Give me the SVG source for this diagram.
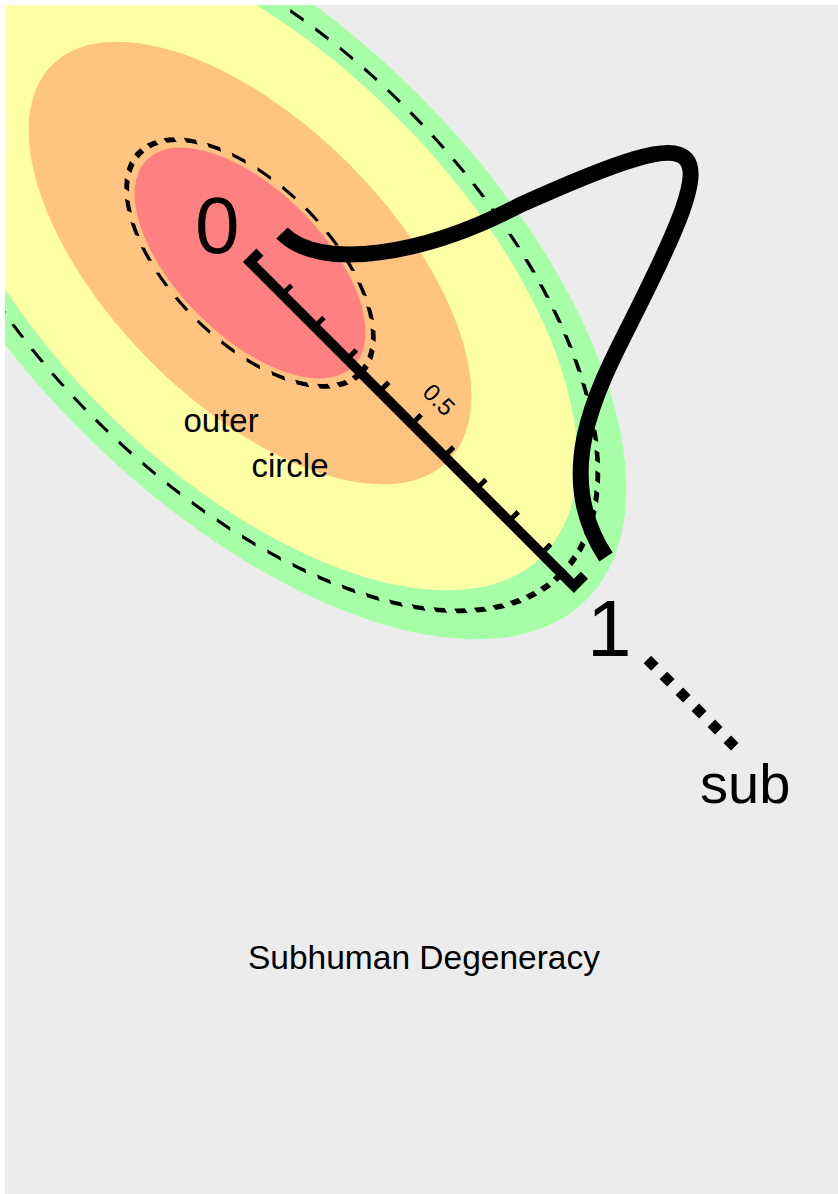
<svg xmlns="http://www.w3.org/2000/svg" width="838" height="1194" viewBox="0 0 838 1194">
<style>
text { font-family: "Liberation Sans", Arial, sans-serif; fill: #000; }
.dash { fill: none; stroke: #000; stroke-width: 3; stroke-dasharray: 8.5 7.5; }
.ink { fill: none; stroke: #000; }
</style>
<defs>
<clipPath id="frame"><rect x="5" y="5" width="833" height="1189"/></clipPath>
</defs>
<rect x="0" y="0" width="838" height="1194" fill="#ffffff"/>
<rect x="5" y="5" width="833" height="1189" fill="#ececec"/>
<g clip-path="url(#frame)">
  <g id="rings" transform="translate(250,263) rotate(45) scale(2,1)">
    <circle id="ring-green" r="238" fill="#a6ffa6"/>
    <circle id="ring-yellow" r="207" fill="#ffffa6"/>
    <circle id="outer-dashed" r="220" class="dash"/>
    <circle id="ring-orange" r="140" fill="#ffc580"/>
    <circle id="ring-red" r="73" fill="#ff8080"/>
    <circle id="inner-dashed" r="78" class="dash"/>
  </g>
</g>
<g id="labels-rings">
  <text x="183.5" y="432" font-size="33">outer</text>
  <text x="251.5" y="477" font-size="33">circle</text>
</g>
<g id="axis" transform="translate(250,262) rotate(45)">
  <path class="ink" d="M0,-14 L0,0 L458,0 L458,-15" stroke-width="10" stroke-linejoin="miter"/>
  <path class="ink" stroke-width="5" d="M45.8,0V-13 M91.6,0V-13 M137.4,0V-13 M183.2,0V-13 M229,0V-13 M274.8,0V-13 M320.6,0V-13 M366.4,0V-13 M412.2,0V-13"/>
  <text x="231" y="-28" font-size="24" text-anchor="middle">0.5</text>
</g>
<g id="label-0"><text x="195" y="253" font-size="80">0</text></g>
<g id="label-1"><text x="587" y="656" font-size="80">1</text></g>
<g id="label-sub"><text x="700" y="803" font-size="56">sub</text></g>
<g id="connectors">
  <path id="curve" class="ink" stroke-width="16" stroke-linecap="butt" d="M282,233 C320,272 425,255 520,205 C720,115 725,135 633,318 C597,389 551,474 606,557"/>
  <g transform="translate(250,262) rotate(45)">
    <line x1="562" y1="0" x2="690" y2="0" stroke="#000" stroke-width="10.6" stroke-dasharray="10.6 12"/>
  </g>
</g>
<g id="title"><text x="424" y="969" font-size="33.5" text-anchor="middle">Subhuman Degeneracy</text></g>
</svg>
